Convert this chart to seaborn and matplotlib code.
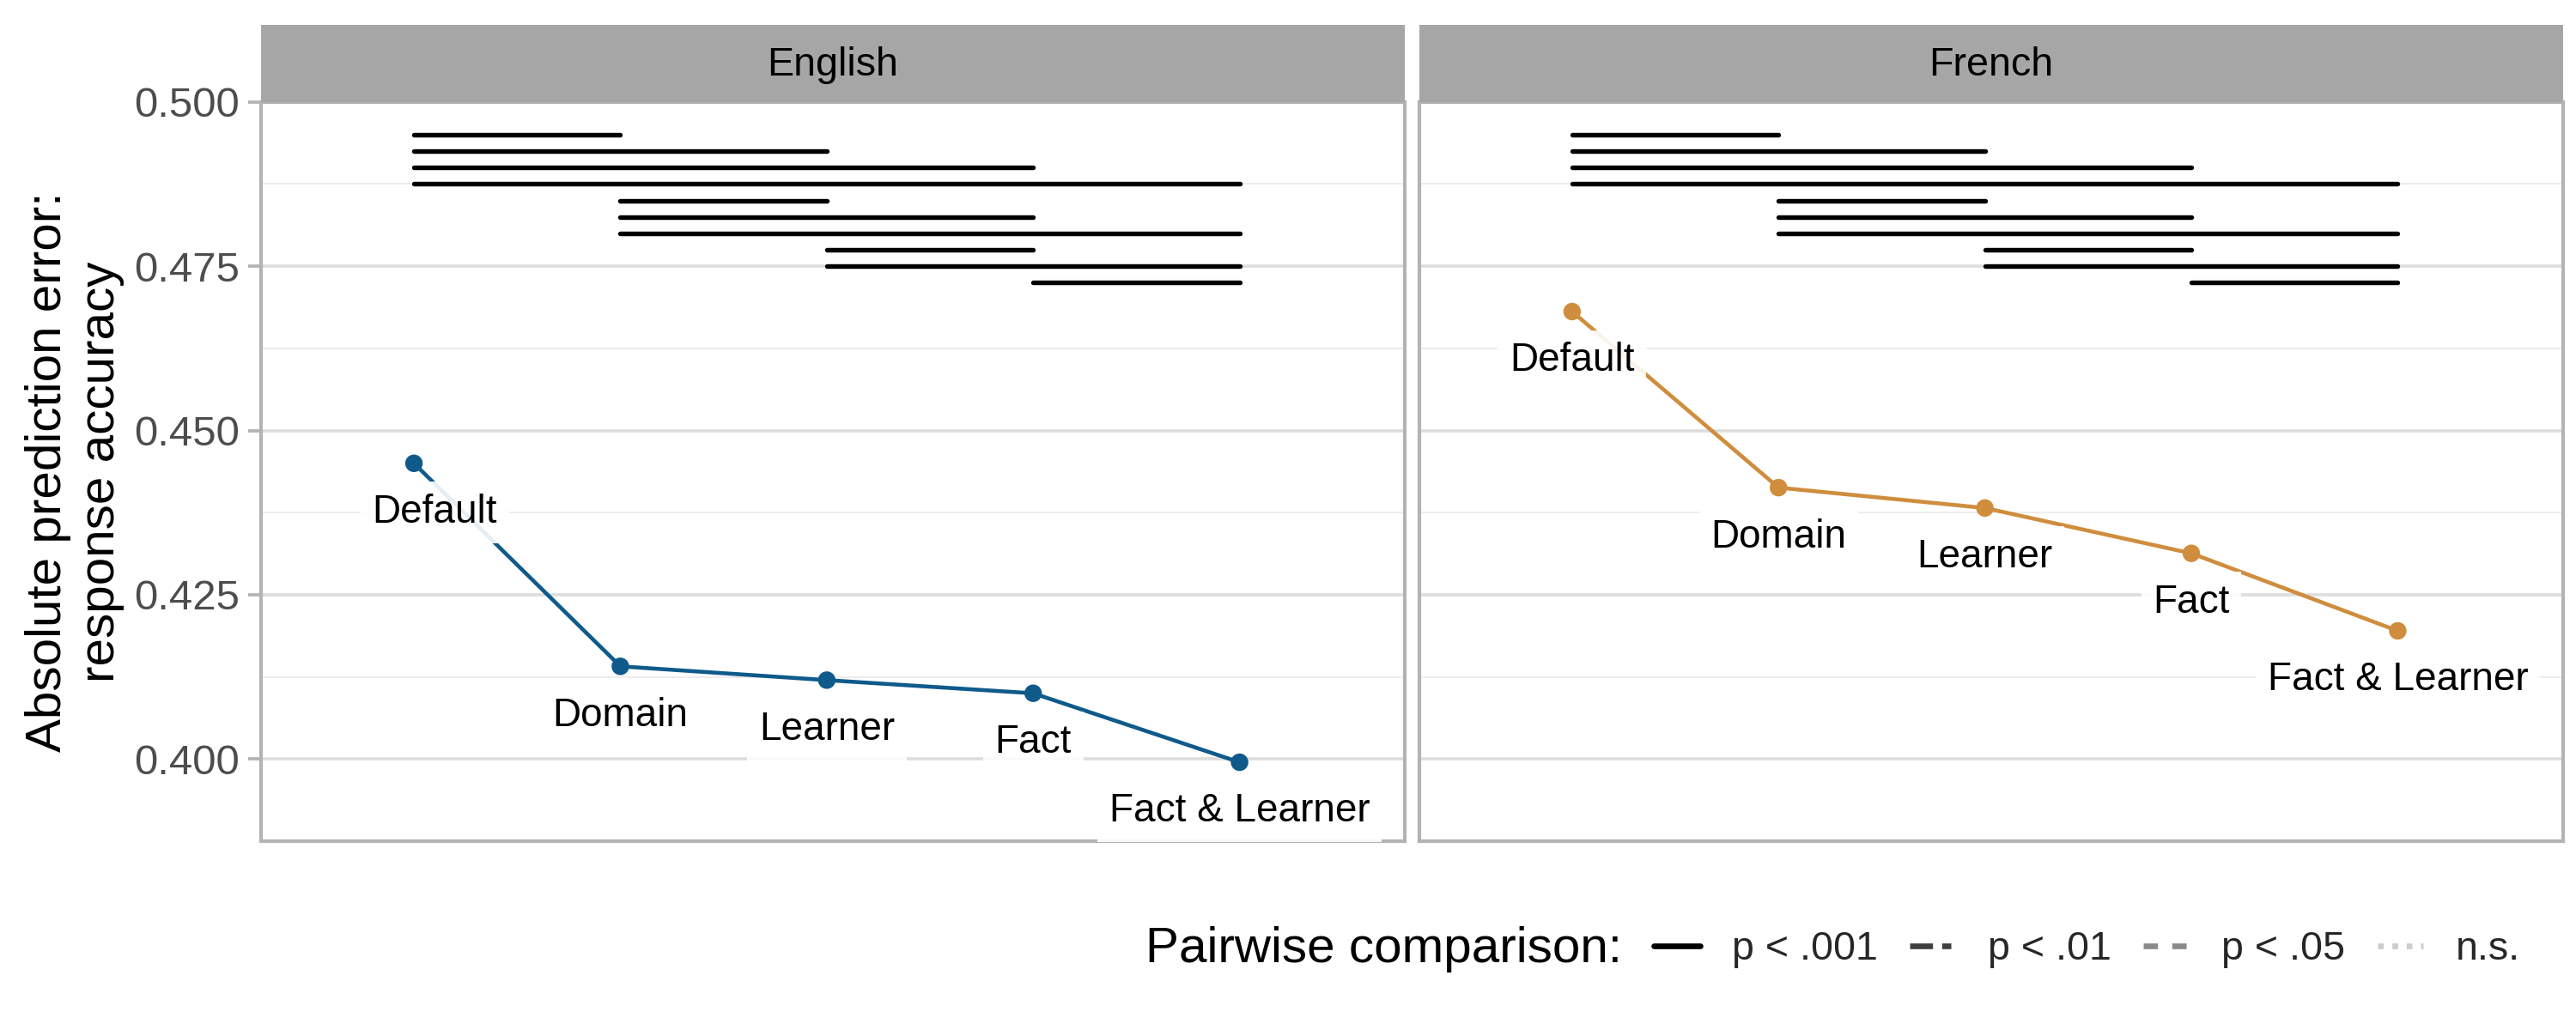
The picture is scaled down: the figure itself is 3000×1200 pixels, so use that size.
import numpy as np
import pandas as pd
import matplotlib
matplotlib.use("Agg")
import matplotlib.pyplot as plt
from matplotlib.lines import Line2D
import seaborn as sns

# values
conditions = ["Default", "Domain", "Learner", "Fact", "Fact & Learner"]
languages = ["English", "French"]
english_err = [0.4450, 0.4141, 0.4120, 0.4100, 0.3995]
french_err = [0.4681, 0.4413, 0.4382, 0.4313, 0.4195]
line_colors = {"English": "#0F5A8B", "French": "#CF8D3D"}

# pairwise comparisons (index into conditions) and their significance
pairs = [(0, 1), (0, 2), (0, 3), (0, 4), (1, 2), (1, 3), (1, 4), (2, 3), (2, 4), (3, 4)]
english_p = ["p < .001"] * 10
french_p = ["p < .001"] * 10

p_levels = ["p < .001", "p < .01", "p < .05", "n.s."]
p_styles = {"p < .001": ("black", "-"),
            "p < .01": ("#3f3f3f", (0, (4, 1.6, 1.6, 1.6))),
            "p < .05": ("#8a8a8a", (0, (2.5, 2.5))),
            "n.s.": ("#cccccc", (0, (1, 1.5)))}

df = pd.DataFrame({
    "language": np.repeat(languages, len(conditions)),
    "condition": conditions * 2,
    "error": english_err + french_err,
})
df["pos"] = df["condition"].map({c: i for i, c in enumerate(conditions)})
pvals = {"English": english_p, "French": french_p}

sns.set_theme(style="white")
plt.rcParams["font.family"] = ["Liberation Sans", "DejaVu Sans"]

fig = plt.figure(figsize=(10, 4), dpi=300)
fig.patch.set_facecolor("white")

panel_left = [0.1014, 0.5510]
panel_w = 0.4439
panel_bot, panel_top = 0.1834, 0.901
strip_top = 0.976

for i, lang in enumerate(languages):
    ax = fig.add_axes([panel_left[i], panel_bot, panel_w, panel_top - panel_bot])
    sub = df[df["language"] == lang]
    col = line_colors[lang]

    ax.set_ylim(0.3875, 0.5)
    ax.set_xlim(-0.74, 4.80)
    ax.set_yticks([0.400, 0.425, 0.450, 0.475, 0.500])
    ax.set_yticks([0.3875, 0.4125, 0.4375, 0.4625, 0.4875], minor=True)
    ax.grid(True, which="major", axis="y", color="#DEDEDE", linewidth=0.9, zorder=0)
    ax.grid(True, which="minor", axis="y", color="#EBEBEB", linewidth=0.45, zorder=0)
    ax.set_axisbelow(True)

    sns.lineplot(data=sub, x="pos", y="error", color=col, linewidth=1.1,
                 ax=ax, legend=False, zorder=2)
    sns.scatterplot(data=sub, x="pos", y="error", color=col, s=24,
                    edgecolor="none", ax=ax, legend=False, zorder=3)

    # labels under each point
    for _, r in sub.iterrows():
        dx = 0.1 if (lang == "English" and r["pos"] == 0) else 0.0
        ax.text(r["pos"] + dx, r["error"] - 0.0075, r["condition"],
                ha="center", va="center", fontsize=11, color="black", zorder=4,
                bbox=dict(boxstyle="square,pad=0.3", fc="white", ec="none", alpha=0.9))

    # significance bars
    for k, (a, b) in enumerate(pairs):
        c, ls = p_styles[pvals[lang][k]]
        ax.hlines(0.495 - 0.0025 * k, a, b, colors=c, linestyles=ls,
                  linewidth=1.3, capstyle="round", zorder=2)

    ax.set_xticks([])
    ax.set_xlabel("")
    ax.set_ylabel("")
    for s in ax.spines.values():
        s.set_color("#B3B3B3")
        s.set_linewidth(1.0)
    if i == 0:
        ax.tick_params(axis="y", which="major", left=True, length=3.5, width=0.9,
                       color="#B3B3B3", labelsize=11.8, labelcolor="#4D4D4D", pad=2.5)
        ax.tick_params(axis="y", which="minor", left=False)
        ax.yaxis.set_major_formatter(matplotlib.ticker.FormatStrFormatter("%.3f"))
    else:
        ax.tick_params(axis="y", which="both", left=False, labelleft=False)

    # facet strip
    sax = fig.add_axes([panel_left[i], panel_top, panel_w, strip_top - panel_top])
    sax.set_facecolor("#A6A6A6")
    sax.set_xticks([])
    sax.set_yticks([])
    for s in sax.spines.values():
        s.set_visible(False)
    sax.text(0.5, 0.47, lang, ha="center", va="center", fontsize=11.2, color="black",
             transform=sax.transAxes)

fig.text(0.029, (panel_bot + panel_top) / 2,
         "Absolute prediction error:\nresponse accuracy",
         rotation=90, ha="center", va="center", fontsize=14, color="black",
         linespacing=1.2)

# legend
fig.text(0.4445, 0.078, "Pairwise comparison:", ha="left", va="center",
         fontsize=14, color="black")
handles = [Line2D([0], [0], color=p_styles[p][0], linestyle=p_styles[p][1], linewidth=1.6)
           for p in p_levels]
fig.legend(handles, p_levels, loc="center left", bbox_to_anchor=(0.642, 0.078),
           ncol=4, frameon=False, fontsize=11.2, handlelength=1.15,
           handletextpad=0.8, columnspacing=0.8, borderaxespad=0, borderpad=0)

fig.savefig("out.png", dpi=300, facecolor="white")
